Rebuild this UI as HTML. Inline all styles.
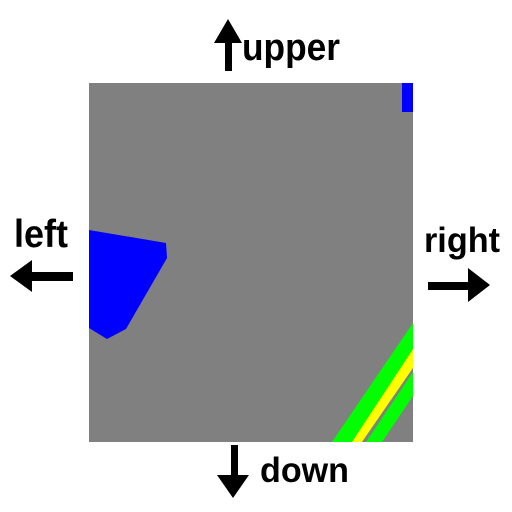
<!DOCTYPE html>
<html><head><meta charset="utf-8"><style>html,body{margin:0;padding:0;background:#fff}svg{display:block}text{font-family:"Liberation Sans","DejaVu Sans",sans-serif;font-weight:bold;fill:#000}</style></head>
<body>
<svg width="512" height="512" viewBox="0 0 512 512">
<rect x="89" y="83" width="324" height="359" fill="#808080"/>
<rect x="402" y="83" width="11" height="29" fill="#0000ff"/>
<polygon points="89,230 166,243 167,258 126,329 107,339 89,328" fill="#0000ff"/>
<polygon points="332,442 413,323 413,396 382,442" fill="#00ff00"/>
<polygon points="352,442 413,349 413,368 362,442" fill="#ffff00"/>
<polygon points="362,442 413,368 413,372 366,442" fill="#808080"/>
<g><rect x="225" y="42" width="7" height="29" fill="#000"/><polygon points="228,19 214,43 242,43" fill="#000"/></g>
<text x="242" y="60" font-size="38" textLength="98" lengthAdjust="spacingAndGlyphs">upper</text>
<g><rect x="231" y="445" width="7" height="31" fill="#000"/><polygon points="217,475 249,475 233,498" fill="#000"/></g>
<text x="260" y="482" font-size="35" textLength="89" lengthAdjust="spacingAndGlyphs">down</text>
<g><rect x="30" y="272" width="43" height="9" fill="#000"/><polygon points="10,276 32,260 32,292" fill="#000"/></g>
<text x="14" y="247" font-size="39" textLength="54" lengthAdjust="spacingAndGlyphs">left</text>
<g><rect x="428" y="282" width="42" height="8" fill="#000"/><polygon points="468,268 490,285 468,302" fill="#000"/></g>
<text x="424" y="252" font-size="35" textLength="76" lengthAdjust="spacingAndGlyphs">right</text>
</svg>
</body></html>
